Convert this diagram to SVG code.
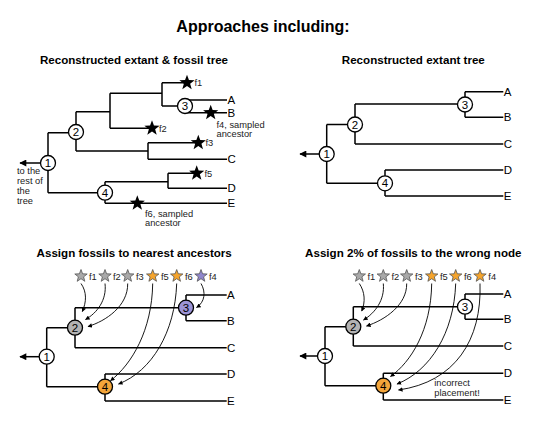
<svg xmlns="http://www.w3.org/2000/svg" xmlns:xlink="http://www.w3.org/1999/xlink" width="538" height="428" viewBox="0 0 538 428">
<defs>
<style>
.br{fill:none;stroke:#000;stroke-width:1.5}
.cv{fill:none;stroke:#000;stroke-width:0.9}
.nd{stroke:#000;stroke-width:1.3}
.w{fill:#fff}.g{fill:#b3b3b3}.p{fill:#9c94d6}.o{fill:#f3a53a}
.nt{font-family:"Liberation Sans",Arial,sans-serif;font-size:11.5px;text-anchor:middle;fill:#000}
.lt{font-family:"Liberation Sans",Arial,sans-serif;font-size:11.5px;fill:#000}
.sm{font-family:"Liberation Sans",Arial,sans-serif;font-size:9.3px;fill:#222}
.tt{font-family:"Liberation Sans",Arial,sans-serif;font-size:11.6px;font-weight:bold;text-anchor:middle;fill:#000}
.mt{font-family:"Liberation Sans",Arial,sans-serif;font-size:16px;font-weight:bold;text-anchor:middle;fill:#000}
.sg{fill:#a9a9a9;stroke:#555;stroke-width:0.8}
.so{fill:#f5a42c;stroke:#555;stroke-width:0.8}
.sp{fill:#8f86cc;stroke:#555;stroke-width:0.8}
</style>
<polygon id="star" points="0,-8 1.95,-2.68 7.61,-2.47 3.15,1.02 4.7,6.47 0,3.3 -4.7,6.47 -3.15,1.02 -7.61,-2.47 -1.95,-2.68"/>
<polygon id="cstar" points="0,-6.5 1.6,-2.2 6.2,-2 2.6,0.85 3.8,5.3 0,2.7 -3.8,5.3 -2.6,0.85 -6.2,-2 -1.6,-2.2"/>
<marker id="ah" viewBox="0 0 10 10" refX="9" refY="5" markerWidth="5" markerHeight="4.5" markerUnits="userSpaceOnUse" orient="auto"><path d="M0,0 L10,5 L0,10 Z" fill="#000"/></marker>
<marker id="big" viewBox="0 0 10 10" refX="9" refY="5" markerWidth="8" markerHeight="7" markerUnits="userSpaceOnUse" orient="auto"><path d="M0,0 L10,5 L0,10 Z" fill="#000"/></marker>
</defs>
<rect width="538" height="428" fill="#fff"/>
<text class="mt" x="263" y="31.5">Approaches including:</text>

<!-- Panel 1 -->
<g id="panel1">
<text class="tt" x="134" y="64.3">Reconstructed extant &amp; fossil tree</text>
<g id="p1-connectors">
<path class="br" d="M48,132.7 V192.7 M48,132.7 H76 M76,111.7 V151 M76,111.7 H110 M110,93.3 V128.3 M110,93.3 H162 M162,82.7 V106 M162,82.7 H187 M162,106 H185 M185,100 V112.7 M185,100 H227 M185,112.7 H227 M110,128.3 H152 M76,151 H148 M148,142.7 V159.3 M148,142.7 H198 M148,159.3 H227 M48,192.7 H105 M105,181.7 V203.3 M105,181.7 H168 M168,173.3 V188.3 M168,173.3 H197 M168,188.3 H227 M105,203.3 H227"/>
<path class="br" d="M40.5,163 H20" marker-end="url(#big)"/>
</g>
<g id="p1-n1"><circle class="nd w" cx="48" cy="163" r="7.5"/><text class="nt" x="48" y="167.1">1</text></g>
<g id="p1-n2"><circle class="nd w" cx="76" cy="132" r="7.5"/><text class="nt" x="76" y="136.1">2</text></g>
<g id="p1-n3"><circle class="nd w" cx="185" cy="106" r="7.5"/><text class="nt" x="185" y="110.1">3</text></g>
<g id="p1-n4"><circle class="nd w" cx="105" cy="192.7" r="7.5"/><text class="nt" x="105" y="196.8">4</text></g>
<g id="p1-fossils">
<use xlink:href="#star" x="187" y="82.7"/><text class="sm" x="194.5" y="86.3">f1</text>
<use xlink:href="#star" x="152" y="128.3"/><text class="sm" x="159" y="132">f2</text>
<use xlink:href="#star" x="198.3" y="142.7"/><text class="sm" x="205.5" y="146.3">f3</text>
<use xlink:href="#star" x="210.7" y="112.7"/><text class="sm" x="216.5" y="127.5">f4, sampled</text><text class="sm" x="216.5" y="137">ancestor</text>
<use xlink:href="#star" x="196.7" y="173.3"/><text class="sm" x="204.5" y="177">f5</text>
<use xlink:href="#star" x="137.3" y="203.3"/><text class="sm" x="145" y="216.5">f6, sampled</text><text class="sm" x="145" y="226.3">ancestor</text>
</g>
<g id="p1-tips">
<text class="lt" x="227.5" y="104">A</text><text class="lt" x="227.5" y="116.8">B</text><text class="lt" x="227.5" y="163.4">C</text><text class="lt" x="227.5" y="192.4">D</text><text class="lt" x="227.5" y="207.4">E</text>
</g>
<text class="sm" x="17" y="174">to the</text>
<text class="sm" x="17" y="184">rest of</text>
<text class="sm" x="17" y="194">the</text>
<text class="sm" x="17" y="204">tree</text>
</g>

<!-- Panel 2 -->
<g id="panel2">
<text class="tt" x="413.3" y="64.3">Reconstructed extant tree</text>
<g id="p2-connectors">
<path class="br" d="M326.7,124.5 V183.3 M326.7,124.5 H355 M355,104 V144 M355,104 H465 M465,91.7 V117.3 M465,91.7 H503.3 M465,117.3 H503.3 M355,144 H503.3 M326.7,183.3 H385 M385,170 V196 M385,170 H503.3 M385,196 H503.3"/>
<path class="br" d="M319.2,154 H300" marker-end="url(#big)"/>
</g>
<g id="p2-n1"><circle class="nd w" cx="326.7" cy="154" r="7.5"/><text class="nt" x="326.7" y="158.1">1</text></g>
<g id="p2-n2"><circle class="nd w" cx="355" cy="124.5" r="7.5"/><text class="nt" x="355" y="128.6">2</text></g>
<g id="p2-n3"><circle class="nd w" cx="465" cy="104.5" r="7.5"/><text class="nt" x="465" y="108.6">3</text></g>
<g id="p2-n4"><circle class="nd w" cx="385" cy="183.3" r="7.5"/><text class="nt" x="385" y="187.4">4</text></g>
<g id="p2-tips">
<text class="lt" x="503.8" y="95.8">A</text><text class="lt" x="503.8" y="121.4">B</text><text class="lt" x="503.8" y="148.1">C</text><text class="lt" x="503.8" y="174.1">D</text><text class="lt" x="503.8" y="200.1">E</text>
</g>
</g>

<!-- Panel 3 -->
<g id="panel3">
<text class="tt" x="134.2" y="256.7">Assign fossils to nearest ancestors</text>
<g id="p3-connectors">
<path class="br" d="M46.7,327.7 V386.7 M46.7,327.7 H75 M75,307.7 V347.7 M75,307.7 H186 M186,295 V320.7 M186,295 H226.7 M186,320.7 H226.7 M75,347.7 H226.7 M46.7,386.7 H105 M105,374 V401 M105,374 H226.7 M105,401 H226.7"/>
<path class="br" d="M39.2,356.7 H20" marker-end="url(#big)"/>
<path class="cv" d="M81,283.5 C87,292 86.5,302 82.3,311.5" marker-end="url(#ah)"/>
<path class="cv" d="M105,283.5 C107,300 97,313 85.5,319.5" marker-end="url(#ah)"/>
<path class="cv" d="M127.7,283.5 C128,306 106,321 88,326.5" marker-end="url(#ah)"/>
<path class="cv" d="M152.7,283.5 C152,330 132,364 110.5,380.7" marker-end="url(#ah)"/>
<path class="cv" d="M176.7,283.5 C175,332 152,371 118.5,384" marker-end="url(#ah)"/>
<path class="cv" d="M201,283.5 C206,292 205,302 196.5,307.5" marker-end="url(#ah)"/>
</g>
<g id="p3-fossils">
<use xlink:href="#cstar" class="sg" x="81" y="276"/><text class="sm" x="89" y="279.5">f1</text>
<use xlink:href="#cstar" class="sg" x="105" y="276"/><text class="sm" x="113" y="279.5">f2</text>
<use xlink:href="#cstar" class="sg" x="127.7" y="276"/><text class="sm" x="136" y="279.5">f3</text>
<use xlink:href="#cstar" class="so" x="152.7" y="276"/><text class="sm" x="161" y="279.5">f5</text>
<use xlink:href="#cstar" class="so" x="176.7" y="276"/><text class="sm" x="185" y="279.5">f6</text>
<use xlink:href="#cstar" class="sp" x="201" y="276"/><text class="sm" x="209" y="279.5">f4</text>
</g>
<g id="p3-n1"><circle class="nd w" cx="46.7" cy="356.7" r="7.5"/><text class="nt" x="46.7" y="360.8">1</text></g>
<g id="p3-n2"><circle class="nd g" cx="75" cy="327.7" r="7.5"/><text class="nt" x="75" y="331.8">2</text></g>
<g id="p3-n3"><circle class="nd p" cx="186" cy="307.7" r="7.5"/><text class="nt" x="186" y="311.8">3</text></g>
<g id="p3-n4"><circle class="nd o" cx="105" cy="386.7" r="7.5"/><text class="nt" x="105" y="390.8">4</text></g>
<g id="p3-tips">
<text class="lt" x="227" y="299.1">A</text><text class="lt" x="227" y="324.8">B</text><text class="lt" x="227" y="351.8">C</text><text class="lt" x="227" y="378.1">D</text><text class="lt" x="227" y="405.1">E</text>
</g>
</g>

<!-- Panel 4 -->
<g id="panel4">
<text class="tt" x="413.3" y="256.7">Assign 2% of fossils to the wrong node</text>
<g id="p4-connectors">
<path class="br" d="M325,326.7 V385.7 M325,326.7 H353.3 M353.3,306.7 V346 M353.3,306.7 H465 M465,294 V319.3 M465,294 H503.3 M465,319.3 H503.3 M353.3,346 H503.3 M325,385.7 H383.3 M383.3,373.3 V400 M383.3,373.3 H503.3 M383.3,400 H503.3"/>
<path class="br" d="M317.5,356 H300" marker-end="url(#big)"/>
<path class="cv" d="M359.3,283.5 C365,292 365.5,302 361.7,311" marker-end="url(#ah)"/>
<path class="cv" d="M383.3,283.5 C385,300 375,313 363.5,320" marker-end="url(#ah)"/>
<path class="cv" d="M406.7,283.5 C407,305 385,320 366.5,326" marker-end="url(#ah)"/>
<path class="cv" d="M431.7,283.5 C431,330 411,362 390.5,376.5" marker-end="url(#ah)"/>
<path class="cv" d="M455.7,283.5 C454,333 430,371 397,384" marker-end="url(#ah)"/>
<path class="cv" d="M480,283.5 C482,340 455,382 398.5,390" marker-end="url(#ah)"/>
</g>
<g id="p4-fossils">
<use xlink:href="#cstar" class="sg" x="359.3" y="276"/><text class="sm" x="367.5" y="279.5">f1</text>
<use xlink:href="#cstar" class="sg" x="383.3" y="276"/><text class="sm" x="391.5" y="279.5">f2</text>
<use xlink:href="#cstar" class="sg" x="406.7" y="276"/><text class="sm" x="415" y="279.5">f3</text>
<use xlink:href="#cstar" class="so" x="431.7" y="276"/><text class="sm" x="440" y="279.5">f5</text>
<use xlink:href="#cstar" class="so" x="455.7" y="276"/><text class="sm" x="464" y="279.5">f6</text>
<use xlink:href="#cstar" class="so" x="480" y="276"/><text class="sm" x="488.3" y="279.5">f4</text>
</g>
<g id="p4-n1"><circle class="nd w" cx="325" cy="356" r="7.5"/><text class="nt" x="325" y="360.1">1</text></g>
<g id="p4-n2"><circle class="nd g" cx="353.3" cy="326.7" r="7.5"/><text class="nt" x="353.3" y="330.8">2</text></g>
<g id="p4-n3"><circle class="nd w" cx="465" cy="306.7" r="7.5"/><text class="nt" x="465" y="310.8">3</text></g>
<g id="p4-n4"><circle class="nd o" cx="383.3" cy="385.7" r="7.5"/><text class="nt" x="383.3" y="389.8">4</text></g>
<g id="p4-tips">
<text class="lt" x="503.8" y="298.1">A</text><text class="lt" x="503.8" y="323.4">B</text><text class="lt" x="503.8" y="350.1">C</text><text class="lt" x="503.8" y="377.4">D</text><text class="lt" x="503.8" y="404.1">E</text>
</g>
<text class="sm" x="434.3" y="385.6">incorrect</text>
<text class="sm" x="434.3" y="396">placement!</text>
</g>
</svg>
